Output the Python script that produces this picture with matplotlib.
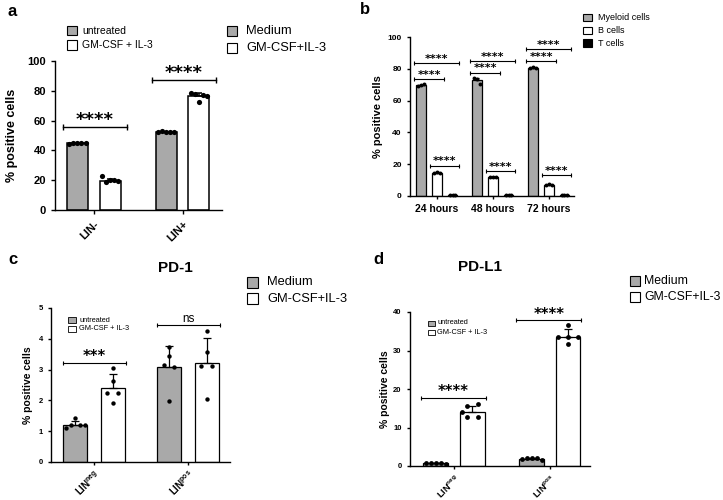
import numpy as np
import matplotlib
matplotlib.use('Agg')
import matplotlib.pyplot as plt
from matplotlib.patches import Rectangle

plt.rcParams.update({
    'font.family': ['Liberation Sans', 'DejaVu Sans'],
    'mathtext.default': 'regular',
    'axes.linewidth': 1.0,
    'xtick.direction': 'out',
    'ytick.direction': 'out',
})

W, H = 723, 500
GRAY = '#a9a9a9'

# ---- panel a ----
a_groups = ['LIN-', 'LIN+']
a_untr_mean = [44.8, 52.2]
a_untr_sd = [0.3, 0.4]
a_untr_pts = [[44.6, 45.0, 45.1, 45.0, 44.9], [52.4, 52.9, 52.3, 52.6, 52.4]]
a_gm_mean = [19.4, 76.2]
a_gm_sd = [1.7, 2.4]
a_gm_pts = [[22.8, 18.6, 19.8, 19.9, 19.6], [78.6, 77.6, 72.8, 77.4, 76.8]]
a_sig = ['****', '****']
a_sig_y = [55.9, 87.2]
a_leg_small = ['untreated', 'GM-CSF + IL-3']
a_leg_big = ['Medium', 'GM-CSF+IL-3']

# ---- panel b ----
b_groups = ['24 hours', '48 hours', '72 hours']
b_series = ['Myeloid cells', 'B cells', 'T cells']
b_mean = [[69.5, 73.0, 80.6], [14.6, 12.0, 7.0], [0.8, 0.8, 0.6]]
b_sd = [[0.6, 1.5, 0.6], [0.4, 0.2, 0.3], [0.1, 0.1, 0.1]]
b_pts = [[[69.0, 70.0, 70.2], [74.2, 73.8, 70.6], [80.2, 81.2, 80.8]],
         [[14.2, 14.9, 14.7], [12.1, 12.2, 12.0], [7.2, 7.4, 7.0]],
         [[0.8, 0.8, 0.8], [0.8, 0.8, 0.8], [0.6, 0.6, 0.6]]]
# comparisons: (series i, series j, y of bracket per group)
b_comp = [(0, 1, [73.6, 77.6, 84.9]),
          (0, 2, [83.4, 84.9, 92.2]),
          (1, 2, [19.0, 15.7, 13.2])]

# ---- panel c (PD-1) ----
cd_groups = [r'LIN$^{neg}$', r'LIN$^{pos}$']
c_untr_mean = [1.19, 3.07]
c_untr_sd = [0.14, 0.70]
c_untr_pts = [[1.1, 1.2, 1.42, 1.2, 1.2], [3.74, 3.44, 3.15, 3.1, 1.98]]
c_gm_mean = [2.40, 3.20]
c_gm_sd = [0.45, 0.82]
c_gm_pts = [[3.04, 2.64, 2.25, 2.25, 1.93], [4.25, 3.56, 3.12, 3.12, 2.05]]
c_sig = ['***', 'ns']
c_sig_y = [3.22, 4.45]

# ---- panel d (PD-L1) ----
d_untr_mean = [0.7, 1.8]
d_untr_sd = [0.1, 0.2]
d_untr_pts = [[0.8, 0.9, 0.8, 0.8, 0.6], [1.8, 2.1, 2.2, 2.0, 1.6]]
d_gm_mean = [14.1, 33.6]
d_gm_sd = [1.5, 1.9]
d_gm_pts = [[15.7, 16.0, 13.9, 12.8, 12.8], [36.6, 33.6, 33.4, 33.4, 31.6]]
d_sig = ['****', '****']
d_sig_y = [17.7, 37.9]

# dot layout inside bars (fraction of half bar width)
spread5 = [-0.8, -0.4, 0.0, 0.4, 0.8]
spread3 = [-0.6, 0.0, 0.6]
c_off_untr = [spread5, [0, 0, -0.4, 0.4, 0]]
c_off_gm = [[0, 0, -0.45, 0.45, 0], [0, 0, -0.45, 0.45, 0]]
d_off_untr = [spread5, spread5]
d_off_gm = [[-0.44, 0.44, -0.85, -0.44, 0.44], [0, -0.8, 0, 0.8, 0]]


def fig_ax(l, r, b, t):
    return fig.add_axes([l / W, 1 - b / H, (r - l) / W, (b - t) / H])


def draw_bars(ax, xs, means, sds, pts, offs, width, color, lw, ms, cap):
    ax.bar(xs, means, width, color=color, edgecolor='black', linewidth=lw, zorder=2)
    ax.errorbar(xs, means, yerr=[np.zeros(len(xs)), sds], fmt='none', ecolor='black',
                elinewidth=lw, capsize=cap, capthick=lw, zorder=3)
    for x, p, o in zip(xs, pts, offs):
        ax.scatter(x + np.array(o) * width / 2, p, s=ms, color='black', zorder=4,
                   clip_on=False, linewidths=0)


def bracket(ax, x0, x1, y, label, fs, lw, ms, pad):
    ax.plot([x0, x1], [y, y], color='black', lw=lw, marker='|', markersize=ms,
            markeredgewidth=lw, zorder=5, clip_on=False)
    if label == 'ns':
        ax.text((x0 + x1) / 2, y, label, ha='center', va='bottom', fontsize=fs * 0.8)
    else:
        ax.annotate(label, ((x0 + x1) / 2, y), xytext=(0, pad), textcoords='offset points',
                    ha='center', va='baseline', fontsize=fs, fontweight='bold',
                    family='DejaVu Sans')


def legend(labels, colors, xsq, xtxt, ys, w, h, fs, lw=0.8):
    for lab, col, y in zip(labels, colors, ys):
        fig.add_artist(Rectangle((xsq / W, 1 - (y + h / 2) / H), w / W, h / H,
                                 transform=fig.transFigure, facecolor=col,
                                 edgecolor='black', linewidth=lw))
        fig.text(xtxt / W, 1 - y / H, lab, ha='left', va='center', fontsize=fs)


def style(ax, tick_fs, lab_fs, ticklen=3):
    for s in ['top', 'right']:
        ax.spines[s].set_visible(False)
    ax.tick_params(labelsize=tick_fs, length=ticklen, width=1.0)
    for t in ax.get_yticklabels() + ax.get_xticklabels():
        t.set_fontweight('bold')
    ax.set_ylabel('% positive cells', fontsize=lab_fs, fontweight='bold')


fig = plt.figure(figsize=(W / 100, H / 100), dpi=100)
fig.patch.set_facecolor('white')

# ---- a ----
ax = fig_ax(55, 222, 210, 61)
x = np.arange(len(a_groups))
bw = 0.236
draw_bars(ax, x - 0.19, a_untr_mean, a_untr_sd, a_untr_pts, [spread5] * 2, bw, GRAY, 1.1, 14, 2)
draw_bars(ax, x + 0.18, a_gm_mean, a_gm_sd, a_gm_pts, [spread5] * 2, bw, 'white', 1.1, 14, 2)
for xi, lab, y in zip(x, a_sig, a_sig_y):
    bracket(ax, xi - 0.35, xi + 0.37, y, lab, 13, 1.0, 4.5, 1.5)
ax.set_xlim(-0.44, 1.44)
ax.set_ylim(0, 100)
ax.set_yticks(np.arange(0, 101, 20))
ax.set_xticks(x)
ax.set_xticklabels(a_groups, rotation=45, ha='right', rotation_mode='anchor')
style(ax, 8, 9)
ax.yaxis.set_label_coords(-0.22, 0.5)
legend(a_leg_small, [GRAY, 'white'], 67, 82, [30.7, 45], 10, 9, 7.5)
legend(a_leg_big, [GRAY, 'white'], 227, 246, [31, 48], 10, 10, 9.3)
fig.text(8 / W, 1 - 12 / H, 'a', fontsize=12, fontweight='bold', va='center')

# ---- b ----
ax = fig_ax(410, 574, 196, 37)
x = np.arange(len(b_groups))
bw = 0.17
b_off = [-0.28, 0.0, 0.28]
b_cols = [GRAY, 'white', 'black']
for i in range(len(b_series)):
    draw_bars(ax, x + b_off[i], b_mean[i], b_sd[i], b_pts[i], [spread3] * 3, bw,
              b_cols[i], 0.9, 8, 1.5)
for i, j, ys in b_comp:
    for xi, y in zip(x, ys):
        bracket(ax, xi + b_off[i] - 0.12, xi + b_off[j] + 0.12, y, '****', 8, 0.8, 3, 1.0)
ax.set_xlim(-0.48, 2.45)
ax.set_ylim(0, 100)
ax.set_yticks(np.arange(0, 101, 20))
ax.set_xticks(x)
ax.set_xticklabels(b_groups)
style(ax, 6, 8, 2.5)
for t in ax.get_xticklabels():
    t.set_fontsize(7.5)
ax.yaxis.set_label_coords(-0.165, 0.5)
legend(b_series, b_cols, 583, 598, [17.3, 30.7, 43], 9, 7, 6.5)
fig.text(360 / W, 1 - 10 / H, 'b', fontsize=12, fontweight='bold', va='center')

# ---- c ----
ax = fig_ax(51, 230, 462, 308)
x = np.arange(len(cd_groups))
bw = 0.255
draw_bars(ax, x - 0.2, c_untr_mean, c_untr_sd, c_untr_pts, c_off_untr, bw, GRAY, 0.9, 10, 3)
draw_bars(ax, x + 0.2, c_gm_mean, c_gm_sd, c_gm_pts, c_off_gm, bw, 'white', 0.9, 10, 3)
for xi, lab, y in zip(x, c_sig, c_sig_y):
    bracket(ax, xi - 0.33, xi + 0.34, y, lab, 10.5, 0.8, 3.5, 1.0)
ax.set_xlim(-0.46, 1.45)
ax.set_ylim(0, 5)
ax.set_yticks(np.arange(0, 6, 1))
ax.set_xticks(x)
ax.set_xticklabels(cd_groups, rotation=45, ha='right', rotation_mode='anchor')
style(ax, 5.5, 7.5, 2.5)
ax.tick_params(axis='x', pad=2)
for t in ax.get_xticklabels():
    t.set_fontsize(7)
ax.yaxis.set_label_coords(-0.1, 0.5)
legend(a_leg_small, [GRAY, 'white'], 68, 79, [320, 329], 8, 5.5, 5.3, 0.6)
legend(a_leg_big, [GRAY, 'white'], 247, 267, [282, 298.7], 11, 11, 9.3)
fig.text(175 / W, 1 - 268 / H, 'PD-1', fontsize=11, fontweight='bold', ha='center', va='center')
fig.text(8 / W, 1 - 259 / H, 'c', fontsize=12, fontweight='bold', va='center')

# ---- d ----
ax = fig_ax(410, 590, 466, 312)
bw = 0.26
draw_bars(ax, x - 0.19, d_untr_mean, d_untr_sd, d_untr_pts, d_off_untr, bw, GRAY, 0.9, 12, 3)
draw_bars(ax, x + 0.19, d_gm_mean, d_gm_sd, d_gm_pts, d_off_gm, bw, 'white', 0.9, 12, 3)
for xi, lab, y in zip(x, d_sig, d_sig_y):
    bracket(ax, xi - 0.35, xi + 0.33, y, lab, 10.5, 0.8, 3.5, 1.0)
ax.set_xlim(-0.46, 1.42)
ax.set_ylim(0, 40)
ax.set_yticks(np.arange(0, 41, 10))
ax.set_xticks(x)
ax.set_xticklabels(cd_groups, rotation=45, ha='right', rotation_mode='anchor')
style(ax, 5.5, 7.5, 2.5)
ax.tick_params(axis='x', pad=2)
for t in ax.get_xticklabels():
    t.set_fontsize(6.6)
ax.yaxis.set_label_coords(-0.11, 0.5)
legend(a_leg_small, [GRAY, 'white'], 428, 437.5, [323, 332.5], 6.5, 5, 5.3, 0.6)
legend(a_leg_big, [GRAY, 'white'], 630, 644, [280.5, 296.7], 10, 10, 8.8)
fig.text(480 / W, 1 - 267 / H, 'PD-L1', fontsize=11, fontweight='bold', ha='center', va='center')
fig.text(373 / W, 1 - 259 / H, 'd', fontsize=12, fontweight='bold', va='center')

fig.savefig('out.png', dpi=100, facecolor='white')
